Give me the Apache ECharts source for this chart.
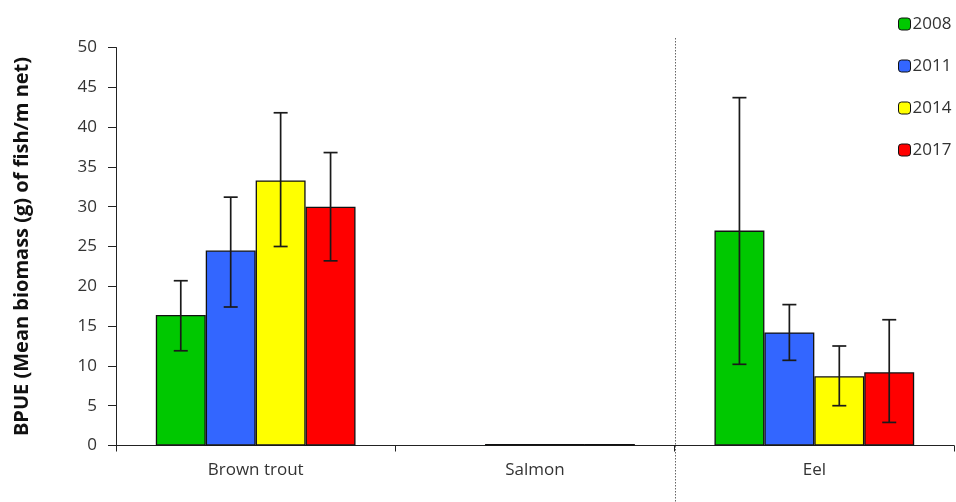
<!DOCTYPE html>
<html>
<head>
<meta charset="utf-8">
<script src="https://cdn.jsdelivr.net/npm/echarts@6/dist/echarts.min.js"></script>
<style>
  html, body { margin: 0; padding: 0; background: #fff; }
  #chart { width: 956px; height: 502px; }
</style>
</head>
<body>
<div id="chart"></div>
<script>
// Species groups and survey years
const categories = ['Brown trout', 'Salmon', 'Eel'];
const years = ['2008', '2011', '2014', '2017'];
const colors = ['#00C800', '#3366FF', '#FFFF00', '#FF0000'];

// Mean BPUE per year (g of fish / m net), one value per species
const bpue2008 = [16.4, null, 27.0];
const bpue2011 = [24.5, 0.2, 14.2];
const bpue2014 = [33.3, 0.2, 8.7];
const bpue2017 = [30.0, 0.2, 9.2];

// Error bar limits [low, high] per species
const err2008 = [[11.9, 20.7], null, [10.2, 43.7]];
const err2011 = [[17.4, 31.2], null, [10.7, 17.7]];
const err2014 = [[25.0, 41.8], null, [5.0, 12.5]];
const err2017 = [[23.2, 36.8], null, [2.9, 15.8]];

const yTicks = { min: 0, max: 50, interval: 5 };

const values = [bpue2008, bpue2011, bpue2014, bpue2017];
const errors = [err2008, err2011, err2014, err2017];

const FONT = 'Open Sans';
const CATEGORY_GAP = 0.285;

const chart = echarts.init(document.getElementById('chart'), null, { renderer: 'canvas' });

const barSeries = years.map((y, i) => ({
  name: y,
  type: 'bar',
  data: values[i],
  barGap: '0%',
  barCategoryGap: (CATEGORY_GAP * 100) + '%',
  itemStyle: { color: colors[i], borderColor: '#111', borderWidth: 1.3 },
  emphasis: { disabled: true },
  z: 2
}));

const errSeries = years.map((y, i) => ({
  type: 'custom',
  name: y + ' err',
  data: errors[i].map((e, k) => e ? [k, e[0], e[1]] : [k, null, null]),
  z: 5,
  silent: true,
  renderItem: function (params, api) {
    const lo = api.value(1), hi = api.value(2);
    if (lo === null || isNaN(lo)) return null;
    const cat = api.value(0);
    const band = api.size([1, 0])[0];
    const bw = band * (1 - CATEGORY_GAP) / years.length;
    const off = (i - (years.length - 1) / 2) * bw;
    const pLo = api.coord([cat, lo]);
    const pHi = api.coord([cat, hi]);
    const x = pLo[0] + off;
    const cap = 7;
    const style = { stroke: '#1a1a1a', lineWidth: 1.7 };
    return {
      type: 'group',
      children: [
        { type: 'line', shape: { x1: x, y1: pLo[1], x2: x, y2: pHi[1] }, style },
        { type: 'line', shape: { x1: x - cap, y1: pLo[1], x2: x + cap, y2: pLo[1] }, style },
        { type: 'line', shape: { x1: x - cap, y1: pHi[1], x2: x + cap, y2: pHi[1] }, style }
      ]
    };
  }
}));

const option = {
  animation: false,
  backgroundColor: '#fff',
  grid: { left: 116, right: 2, top: 47.5, bottom: 56.5, containLabel: false },
  legend: {
    data: years,
    orient: 'vertical',
    left: 893,
    top: 9,
    itemWidth: 12,
    itemHeight: 12,
    itemGap: 22,
    selectedMode: false,
    textStyle: { fontFamily: FONT, fontSize: 17, color: '#333', lineHeight: 20, padding: [0, 0, 0, -3] },
    itemStyle: { borderColor: '#111', borderWidth: 1 }
  },
  xAxis: {
    type: 'category',
    data: categories,
    axisLine: { lineStyle: { color: '#222', width: 1 } },
    axisTick: { show: true, length: 6, lineStyle: { color: '#222' } },
    axisLabel: { fontFamily: FONT, fontSize: 17, color: '#333', margin: 16 },
    splitLine: { show: false }
  },
  yAxis: {
    type: 'value',
    min: yTicks.min,
    max: yTicks.max,
    interval: yTicks.interval,
    name: 'BPUE (Mean biomass (g) of fish/m net)',
    nameLocation: 'middle',
    nameGap: 84,
    nameTextStyle: { fontFamily: FONT, fontSize: 20, fontWeight: 'bold', color: '#111' },
    axisLine: { show: true, lineStyle: { color: '#222', width: 1 } },
    axisTick: { show: true, length: 8, lineStyle: { color: '#222' } },
    axisLabel: { fontFamily: FONT, fontSize: 17, color: '#333', margin: 19 },
    splitLine: { show: false }
  },
  series: [...barSeries, ...errSeries]
};

chart.setOption(option);

// Dotted divider between the Salmon and Eel groups
function drawDivider() {
  const cSalmon = chart.convertToPixel({ xAxisIndex: 0 }, 'Salmon');
  const cEel = chart.convertToPixel({ xAxisIndex: 0 }, 'Eel');
  const x = Math.round((cSalmon + cEel) / 2) + 0.5;
  chart.setOption({
    graphic: [{
      type: 'line',
      shape: { x1: x, y1: 38, x2: x, y2: 502 },
      style: { stroke: '#666', lineWidth: 1, lineDash: [1.5, 1.5] },
      z: 1,
      silent: true
    }]
  });
}
drawDivider();
</script>
</body>
</html>
